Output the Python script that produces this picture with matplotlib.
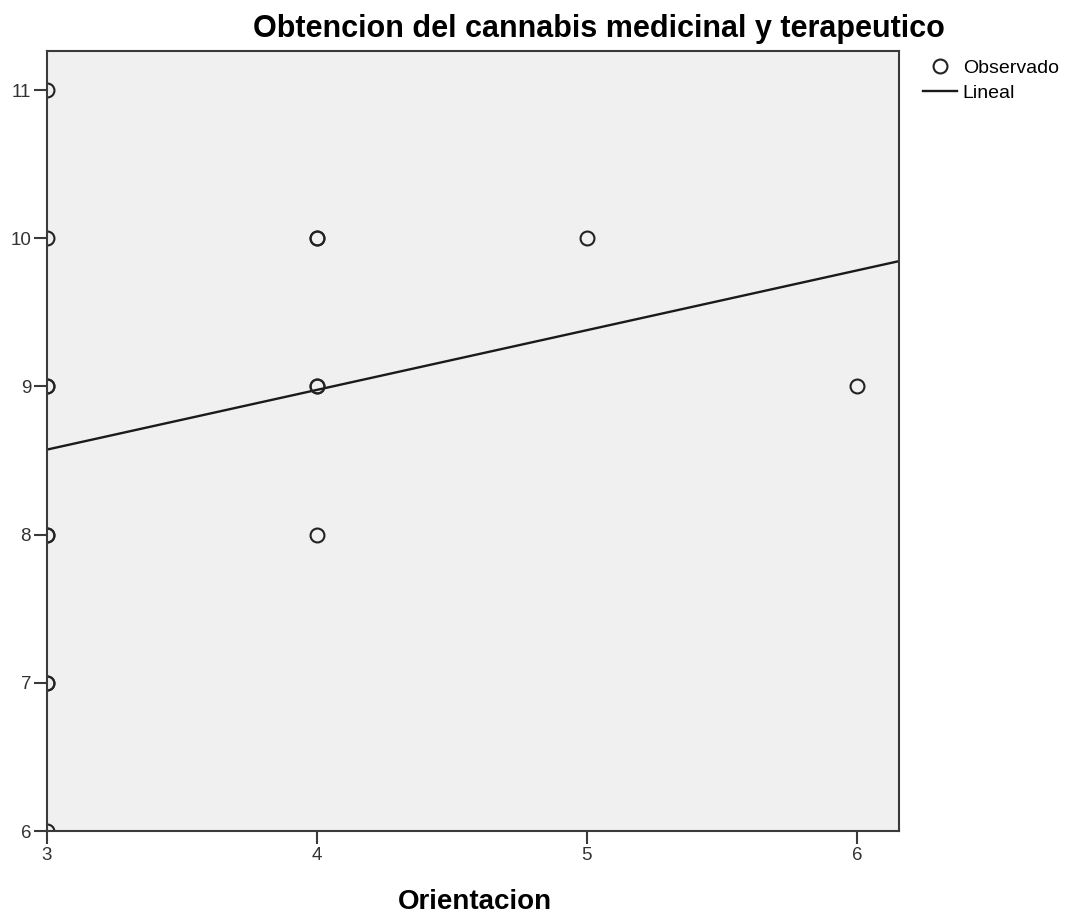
import matplotlib.pyplot as plt
import numpy as np

# observed points (duplicates drawn twice so they look heavier, like the SPSS output)
obs_x = [3, 3, 3, 3, 3, 3, 3, 3, 3, 4, 4, 4, 4, 4, 5, 6]
obs_y = [11, 10, 9, 9, 8, 8, 7, 7, 6, 10, 10, 9, 9, 8, 10, 9]

# linear fit
fit_intercept = 7.365
fit_slope = 0.403

x_ticks = [3, 4, 5, 6]
y_ticks = [6, 7, 8, 9, 10, 11]

fig = plt.figure(figsize=(10.76, 9.18), dpi=100)
ax = fig.add_axes([47 / 1076, 87 / 918, 852 / 1076, 780 / 918])
ax.set_facecolor('#f0f0f0')

ax.set_xlim(3, 6.156)
ax.set_ylim(6, 11.264)

xs = np.array([3, 6.156])
ln, = ax.plot(xs, fit_intercept + fit_slope * xs, color='#1a1a1a', lw=1.7, label='Lineal')
sc, = ax.plot(obs_x, obs_y, 'o', ms=10, mfc='none', mec='#222222', mew=1.5, label='Observado')

for s in ['top', 'right', 'left', 'bottom']:
    ax.spines[s].set_color('#3a3a3a')
    ax.spines[s].set_linewidth(1.5)

ax.set_xticks(x_ticks)
ax.set_yticks(y_ticks)
ax.tick_params(direction='out', length=9.5, width=1.5, color='#3a3a3a',
               labelsize=13.5, labelcolor='#333333', pad=2)
for lab in ax.get_xticklabels() + ax.get_yticklabels():
    lab.set_family('Liberation Sans')

fig.text(599 / 1076, 1 - 29 / 918, 'Obtencion del cannabis medicinal y terapeutico',
         ha='center', va='center', fontsize=22, fontweight='bold', family='Liberation Sans')
fig.text(475 / 1076, 1 - 902 / 918, 'Orientacion',
         ha='center', va='center', fontsize=20, fontweight='bold', family='Liberation Sans')

ax.legend([sc, ln], ['Observado', 'Lineal'], loc='upper left',
          bbox_to_anchor=(923 / 1076, 1 - 59 / 918), bbox_transform=fig.transFigure,
          frameon=False, handlelength=1.75, handletextpad=0.3, labelspacing=0.4,
          borderpad=0, borderaxespad=0, prop={'family': 'Liberation Sans', 'size': 14},
          markerscale=1.0)

fig.savefig('out.png', dpi=100)
